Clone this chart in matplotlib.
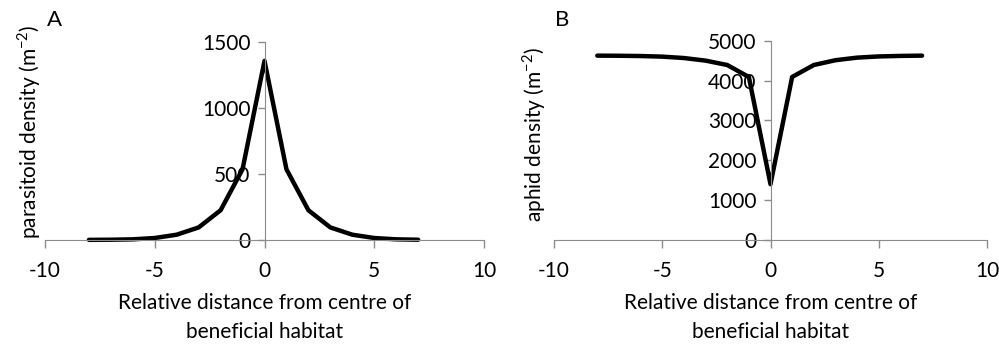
import matplotlib
matplotlib.use("Agg")
import matplotlib.pyplot as plt

plt.rcParams['font.family'] = ['Lato', 'DejaVu Sans']
plt.rcParams['axes.unicode_minus'] = False

# relative distance from centre of beneficial habitat
dist = [-8, -7, -6, -5, -4, -3, -2, -1, 0, 1, 2, 3, 4, 5, 6, 7]
# panel A: parasitoid density
parasitoid = [1, 2, 5, 15, 40, 95, 225, 535, 1355, 535, 225, 95, 40, 15, 5, 2]
# panel B: aphid density
aphid = [4625, 4622, 4615, 4600, 4565, 4500, 4390, 4090, 1400,
         4090, 4390, 4510, 4575, 4605, 4618, 4625]

xticks = [-10, -5, 0, 5, 10]
grey = "#8c8c8c"
fs = 15

fig = plt.figure(figsize=(9.99, 3.46), dpi=100)
axA = fig.add_axes([45/999, 0.3064, 439/999, 0.5731])
axB = fig.add_axes([554/999, 0.3064, 433/999, 0.5760])

def style(ax, yticks, ylabel):
    ax.set_xlim(-10, 10)
    ax.set_ylim(0, yticks[-1])
    ax.set_xticks(xticks)
    ax.set_yticks(yticks)
    ax.spines['top'].set_visible(False)
    ax.spines['right'].set_visible(False)
    ax.spines['left'].set_position(('data', 0))
    ax.spines['left'].set_color(grey)
    ax.spines['bottom'].set_color(grey)
    ax.tick_params(axis='x', colors=grey, labelcolor='black', labelsize=fs,
                   length=6, width=1, pad=9)
    ax.tick_params(axis='y', colors=grey, labelcolor='black', labelsize=fs,
                   length=5, width=1, pad=5)
    ax.set_xlabel("Relative distance from centre of\nbeneficial habitat",
                  fontsize=fs, labelpad=9, linespacing=1.55)
    ax.set_ylabel(ylabel, fontsize=fs)
    ax.patch.set_alpha(0)

axA.plot(dist, parasitoid, color='black', lw=3.2, solid_capstyle='round',
         solid_joinstyle='round', clip_on=False)
style(axA, [0, 500, 1000, 1500], "parasitoid density (m$^{\\mathregular{-2}}$)")
axA.yaxis.set_label_coords(-0.005, 0.547)

axB.plot(dist, aphid, color='black', lw=3.2, solid_capstyle='round',
         solid_joinstyle='round', clip_on=False)
style(axB, [0, 1000, 2000, 3000, 4000, 5000], "aphid density (m$^{\\mathregular{-2}}$)")
axB.yaxis.set_label_coords(-0.014, 0.53)

fig.text(47/999, 1 - 20/346, "A", fontsize=16, va='center', ha='left')
fig.text(555/999, 1 - 20/346, "B", fontsize=16, va='center', ha='left')

fig.savefig("out.png", dpi=100)
